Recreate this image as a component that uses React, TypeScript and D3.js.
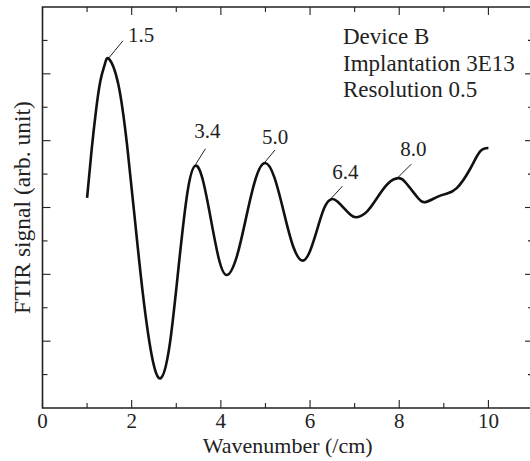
import React from "react";
import * as d3 from "d3";

const wavenumber = [1.0, 1.1, 1.2, 1.3, 1.4, 1.49, 1.7, 1.9, 2.07, 2.25, 2.45, 2.65, 2.85, 3.04, 3.25, 3.43, 3.6, 3.78, 3.95, 4.13, 4.35, 4.56, 4.78, 4.99, 5.2, 5.41, 5.62, 5.83, 6.0, 6.15, 6.32, 6.48, 6.62, 6.76, 6.9, 7.04, 7.27, 7.51, 7.75, 7.98, 8.13, 8.28, 8.43, 8.58, 8.84, 9.06, 9.29, 9.58, 9.81, 10.0];
const signal = [6.29, 7.7, 8.9, 9.8, 10.3, 10.45, 9.69, 7.83, 5.67, 3.43, 1.57, 0.89, 1.87, 4.07, 6.45, 7.25, 6.8, 5.62, 4.49, 3.98, 4.5, 5.66, 6.86, 7.33, 6.9, 5.87, 4.84, 4.41, 4.7, 5.3, 5.99, 6.25, 6.17, 5.98, 5.79, 5.71, 5.87, 6.3, 6.72, 6.88, 6.77, 6.52, 6.27, 6.16, 6.31, 6.41, 6.58, 7.13, 7.67, 7.78];

const peakLabels = ["1.5", "3.4", "5.0", "6.4", "8.0"];
const peakX = [1.49, 3.43, 4.99, 6.48, 7.98];
const peakY = [10.45, 7.25, 7.33, 6.25, 6.88];

const xTicks = [0, 2, 4, 6, 8, 10];
const xMinorTicks = [1, 3, 5, 7, 9, 11];
const yMajorTicks = [2, 4, 6, 8, 10];
const yMinorTicks = [1, 3, 5, 7, 9, 11];

const infoLines = ["Device B", "Implantation 3E13", "Resolution 0.5"];

// layout (styles, not data)
const leader = [
  { lx: 14, ly: -17, tx: 19, ty: -16, anchor: "start" },
  { lx: 10, ly: -16, tx: 12, ty: -27, anchor: "middle" },
  { lx: 10, ly: -12, tx: 10, ty: -18, anchor: "middle" },
  { lx: 11, ly: -12, tx: 14, ty: -19, anchor: "middle" },
  { lx: 13, ly: -13, tx: 15, ty: -21, anchor: "middle" },
];

const FONT = "'Liberation Serif', 'Times New Roman', 'DejaVu Serif', serif";

export default function App() {
  const left = 42.5, right = 533, top = 7, bottom = 408;
  const x = d3.scaleLinear().domain([0, 11]).range([left, right]);
  const y = d3.scaleLinear().domain([0, 12]).range([bottom, top]);
  const pts: [number, number][] = wavenumber.map((w, i) => [w, signal[i]]);
  const line = d3
    .line<[number, number]>()
    .x((d) => x(d[0]))
    .y((d) => y(d[1]))
    .curve(d3.curveNatural);

  const majorLen = 8, minorLen = 5;
  const axisColor = "#222";
  const ts = { fontFamily: FONT, fill: "#222" } as React.CSSProperties;

  return (
    <svg width={530} height={461} style={{ position: "absolute", left: 0, top: 0, background: "#fff", fontFamily: FONT }}>
      <rect x={0} y={0} width={530} height={461} fill="#fff" />
      <path d={`M${right},${top}H${left}V${bottom}H${right}`} fill="none" stroke={axisColor} strokeWidth={1.6} />
      <line x1={right} x2={right} y1={top} y2={bottom} stroke={axisColor} strokeWidth={1.6} />
      {xTicks.map((t) => (
        <g key={"xt" + t}>
          <line x1={x(t)} x2={x(t)} y1={bottom} y2={bottom - majorLen} stroke={axisColor} strokeWidth={1.1} />
          <line x1={x(t)} x2={x(t)} y1={top} y2={top + majorLen} stroke={axisColor} strokeWidth={1.1} />
          <text x={x(t)} y={428} textAnchor="middle" fontSize={21} style={ts}>{t}</text>
        </g>
      ))}
      {xMinorTicks.map((t) => (
        <g key={"xm" + t}>
          <line x1={x(t)} x2={x(t)} y1={bottom} y2={bottom - minorLen} stroke={axisColor} strokeWidth={1.1} />
          <line x1={x(t)} x2={x(t)} y1={top} y2={top + minorLen} stroke={axisColor} strokeWidth={1.1} />
        </g>
      ))}
      {yMajorTicks.map((t) => (
        <g key={"ym" + t}>
          <line x1={left} x2={left + majorLen} y1={y(t)} y2={y(t)} stroke={axisColor} strokeWidth={1.1} />
          <line x1={right} x2={right - majorLen} y1={y(t)} y2={y(t)} stroke={axisColor} strokeWidth={1.1} />
        </g>
      ))}
      {yMinorTicks.map((t) => (
        <g key={"yn" + t}>
          <line x1={left} x2={left + minorLen} y1={y(t)} y2={y(t)} stroke={axisColor} strokeWidth={1.1} />
          <line x1={right} x2={right - minorLen} y1={y(t)} y2={y(t)} stroke={axisColor} strokeWidth={1.1} />
        </g>
      ))}
      <text x={(left + right) / 2} y={453} textAnchor="middle" fontSize={22} style={ts}>Wavenumber (/cm)</text>
      <text transform={`translate(30,${(top + bottom) / 2}) rotate(-90)`} textAnchor="middle" fontSize={23.5} style={ts}>FTIR signal (arb. unit)</text>
      <path d={line(pts) || ""} fill="none" stroke="#111" strokeWidth={2.6} strokeLinejoin="round" />
      {peakLabels.map((lab, i) => {
        const px = x(peakX[i]);
        const py = y(peakY[i]) - 1;
        const L = leader[i];
        return (
          <g key={"pk" + i}>
            <line x1={px} y1={py} x2={px + L.lx} y2={py + L.ly} stroke="#222" strokeWidth={1} />
            <text x={px + L.tx} y={py + L.ty} textAnchor={L.anchor as any} fontSize={21} style={ts}>{lab}</text>
          </g>
        );
      })}
      {infoLines.map((s, i) => (
        <text key={"info" + i} x={343} y={44 + i * 26.5} fontSize={23} style={ts}>{s}</text>
      ))}
    </svg>
  );
}
